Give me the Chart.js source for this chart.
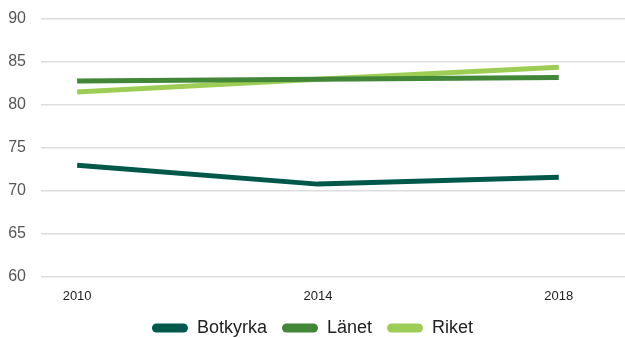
<!DOCTYPE html>
<html>
<head>
<meta charset="utf-8">
<script src="https://cdn.jsdelivr.net/npm/chart.js@4"></script>
<style>
  html, body { margin: 0; padding: 0; background: #fff; }
  #wrap { width: 625px; height: 338px; }
</style>
</head>
<body>
<div id="wrap"><canvas id="lifeChart"></canvas></div>
<script>
var years = [2010, 2014, 2018];
var botkyrka = [73.0, 70.8, 71.6];
var lanet = [82.8, 83.0, 83.2];
var riket = [81.5, 83.0, 84.4];
var yTicks = [60, 65, 70, 75, 80, 85, 90];

function points(values) {
    return years.map(function (y, i) { return { x: y, y: values[i] }; });
}

function series(label, values, color) {
    return {
        label: label,
        data: points(values),
        borderColor: color,
        backgroundColor: color,
        borderWidth: 5,
        pointRadius: 0,
        tension: 0
    };
}

var fontFamily = "Liberation Sans, Arial, sans-serif";

// legend keeps wide gaps between items but takes less height
var compactLegend = {
    id: 'compactLegend',
    beforeInit: function (chart) {
        var legend = chart.legend;
        if (!legend) return;
        var fit = legend.fit;
        legend.fit = function () {
            fit.call(this);
            this.height -= 9;
        };
    }
};

var ctx = document.getElementById('lifeChart');
var lifeChart = new Chart(ctx, {
    type: 'line',
    data: {
        datasets: [
            series("Botkyrka", botkyrka, "#00584b"),
            series("Länet", lanet, "#428637"),
            series("Riket", riket, "#9ecd55")
        ]
    },
    plugins: [compactLegend],
    options: {
        responsive: true,
        maintainAspectRatio: false,
        animation: false,
        layout: { padding: { top: 19, right: 0, left: 0, bottom: 0 } },
        plugins: {
            tooltip: { enabled: false },
            legend: {
                position: 'bottom',
                labels: {
                    boxWidth: 36,
                    boxHeight: 9,
                    useBorderRadius: true,
                    borderRadius: 4.5,
                    padding: 15,
                    color: "#222",
                    font: { family: fontFamily, size: 18 },
                    // plain filled pills, no outline
                    generateLabels: function (chart) {
                        var items = Chart.defaults.plugins.legend.labels.generateLabels(chart);
                        items.forEach(function (it) { it.lineWidth = 0; });
                        return items;
                    }
                }
            }
        },
        scales: {
            x: {
                type: 'linear',
                min: 2009.4,
                max: 2019.1,
                afterBuildTicks: function (axis) {
                    axis.ticks = years.map(function (v) { return { value: v }; });
                },
                afterFit: function (axis) {
                    axis.height = 27;
                    axis.paddingTop = 0;
                    axis.paddingBottom = 0;
                },
                grid: { display: false },
                border: { display: false },
                ticks: {
                    color: "#222",
                    padding: 4,
                    font: { family: fontFamily, size: 13 },
                    callback: function (v) { return String(v); }
                }
            },
            y: {
                min: 60,
                max: 90,
                afterBuildTicks: function (axis) {
                    axis.ticks = yTicks.map(function (v) { return { value: v }; });
                },
                afterFit: function (axis) {
                    axis.width = 41;
                    axis.paddingTop = 0;
                    axis.paddingBottom = 0;
                },
                grid: { color: "#dddddd", lineWidth: 1.5, drawTicks: false },
                border: { display: false },
                ticks: {
                    color: "#555",
                    padding: 15,
                    font: { family: fontFamily, size: 16 }
                }
            }
        }
    }
});
</script>
</body>
</html>
